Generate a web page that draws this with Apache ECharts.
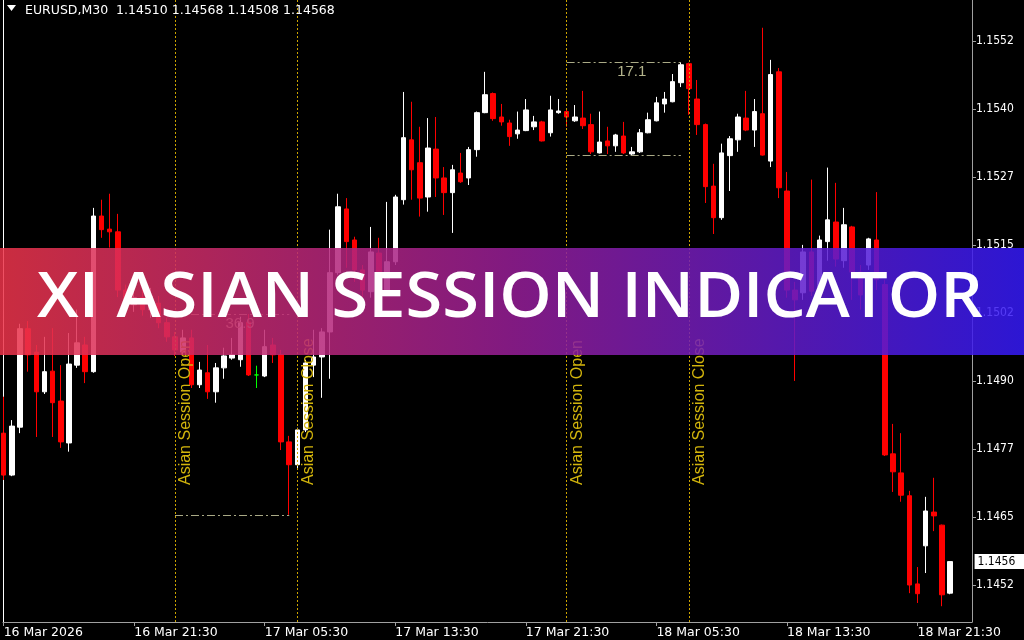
<!DOCTYPE html>
<html><head><meta charset="utf-8">
<script src="https://cdn.jsdelivr.net/npm/echarts@6/dist/echarts.min.js"></script>
<style>html,body{margin:0;padding:0;background:#000;}#c{width:1024px;height:640px;}</style>
</head><body><div id="c"></div>
<script>
const symbolLabel = 'EURUSD,M30';
const firstBarUTC = Date.UTC(2026, 2, 16, 13, 30);
const barMinutes = 30;
const emptySlots = 3;
const xTickLabels = ['16 Mar 2026','16 Mar 21:30','17 Mar 05:30','17 Mar 13:30','17 Mar 21:30','18 Mar 05:30','18 Mar 13:30','18 Mar 21:30'];
const xTickEvery = 16;
const yTickValues = [1.14525,1.1465,1.14775,1.149,1.15025,1.1515,1.15275,1.154,1.15525];
const yTickLabels = ['1.1452','1.1465','1.1477','1.1490','1.1502','1.1515','1.1527','1.1540','1.1552'];
const yMin = 1.14457, yMax = 1.15600;

const opens = [1.14804,1.14727,1.14815,1.14996,1.14953,1.14880,1.14918,1.14863,1.14786,1.14929,
1.14966,1.14917,1.15203,1.15179,1.15174,1.15067,1.15040,1.15053,1.15031,1.15043,
1.15007,1.14981,1.14953,1.14979,1.14893,1.14915,1.14880,1.14924,1.14942,1.14939,
1.15008,1.14911,1.14909,1.14966,1.14948,1.14788,1.14746,1.14810,1.14929,1.14944,
1.14990,1.15099,1.15216,1.15159,1.15104,1.15064,1.15135,1.15067,1.15119,1.15233,
1.15343,1.15301,1.15238,1.15326,1.15273,1.15246,1.15282,1.15273,1.15325,1.15393,
1.15428,1.15385,1.15374,1.15354,1.15360,1.15367,1.15376,1.15356,1.15393,1.15395,
1.15378,1.15383,1.15371,1.15319,1.15341,1.15332,1.15350,1.15317,1.15321,1.15356,
1.15378,1.15409,1.15413,1.15448,1.15483,1.15418,1.15371,1.15258,1.15200,1.15314,
1.15343,1.15383,1.15361,1.15391,1.15304,1.15468,1.15249,1.15067,1.15062,1.15137,
1.15073,1.15156,1.15192,1.15121,1.15183,1.15100,1.15113,1.15159,1.15077,1.14766,
1.14731,1.14689,1.14527,1.14597,1.14659,1.14635,1.14510];
const closes = [1.14727,1.14817,1.14996,1.14948,1.14880,1.14917,1.14860,1.14788,1.14931,1.14970,
1.14917,1.15203,1.15178,1.15174,1.15067,1.15040,1.15053,1.15031,1.15056,1.15007,
1.14981,1.14957,1.14979,1.14893,1.14920,1.14880,1.14924,1.14946,1.14948,1.15007,
1.14911,1.14911,1.14963,1.14948,1.14788,1.14746,1.14810,1.14933,1.14944,1.14990,
1.15099,1.15220,1.15156,1.15104,1.15067,1.15137,1.15091,1.15119,1.15238,1.15347,
1.15288,1.15236,1.15328,1.15273,1.15246,1.15288,1.15266,1.15325,1.15393,1.15426,
1.15382,1.15376,1.15349,1.15361,1.15398,1.15376,1.15341,1.15398,1.15396,1.15385,
1.15385,1.15369,1.15321,1.15339,1.15332,1.15352,1.15319,1.15321,1.15356,1.15380,
1.15411,1.15418,1.15450,1.15481,1.15437,1.15371,1.15257,1.15200,1.15319,1.15345,
1.15385,1.15361,1.15395,1.15315,1.15463,1.15255,1.15067,1.15049,1.15137,1.15065,
1.15159,1.15196,1.15124,1.15187,1.15100,1.15058,1.15161,1.15086,1.14764,1.14733,
1.14690,1.14525,1.14509,1.14661,1.14652,1.14507,1.14568];
const lows = [1.14718,1.14725,1.14804,1.14917,1.14797,1.14876,1.14797,1.14777,1.14770,1.14924,
1.14896,1.14915,1.15163,1.15145,1.15054,1.15027,1.15027,1.15020,1.15016,1.14997,
1.14972,1.14946,1.14948,1.14887,1.14887,1.14867,1.14860,1.14904,1.14939,1.14926,
1.14909,1.14887,1.14907,1.14933,1.14773,1.14654,1.14740,1.14806,1.14907,1.14869,
1.14904,1.15095,1.15108,1.15082,1.15054,1.15053,1.15077,1.15056,1.15113,1.15224,
1.15233,1.15202,1.15211,1.15238,1.15205,1.15172,1.15264,1.15260,1.15312,1.15392,
1.15378,1.15369,1.15332,1.15345,1.15359,1.15361,1.15340,1.15349,1.15391,1.15367,
1.15376,1.15363,1.15317,1.15318,1.15317,1.15321,1.15317,1.15315,1.15319,1.15355,
1.15377,1.15393,1.15412,1.15440,1.15389,1.15352,1.15227,1.15170,1.15196,1.15249,
1.15321,1.15359,1.15330,1.15314,1.15293,1.15236,1.15053,1.14900,1.15049,1.15056,
1.15064,1.15121,1.15110,1.15108,1.15049,1.15031,1.15104,1.15067,1.14762,1.14696,
1.14678,1.14510,1.14492,1.14547,1.14624,1.14486,1.14508];
const highs = [1.14871,1.14828,1.15005,1.15010,1.14966,1.14981,1.14997,1.14929,1.14988,1.15031,
1.14981,1.15218,1.15233,1.15244,1.15207,1.15077,1.15064,1.15067,1.15071,1.15056,
1.15016,1.14990,1.14994,1.14994,1.14935,1.14966,1.14933,1.14961,1.14979,1.15018,
1.15023,1.14928,1.14994,1.14979,1.14957,1.14799,1.14814,1.14939,1.14994,1.14997,
1.15178,1.15244,1.15236,1.15165,1.15113,1.15183,1.15163,1.15229,1.15242,1.15431,
1.15413,1.15367,1.15383,1.15385,1.15293,1.15297,1.15319,1.15330,1.15395,1.15468,
1.15430,1.15409,1.15380,1.15395,1.15418,1.15387,1.15378,1.15424,1.15418,1.15398,
1.15407,1.15433,1.15391,1.15395,1.15367,1.15354,1.15376,1.15330,1.15363,1.15393,
1.15422,1.15431,1.15464,1.15486,1.15485,1.15453,1.15373,1.15299,1.15336,1.15350,
1.15391,1.15433,1.15418,1.15549,1.15490,1.15475,1.15284,1.15082,1.15150,1.15270,
1.15167,1.15292,1.15264,1.15218,1.15185,1.15113,1.15163,1.15247,1.15086,1.14821,
1.14804,1.14698,1.14558,1.14687,1.14722,1.14636,1.14568];

const sessionOpenIdx = [21, 69];
const sessionCloseIdx = [36, 84];
const sessionLastIdx = [35, 83];
const sessionOpenText = 'Asian Session Open';
const sessionCloseText = 'Asian Session Close';
const bannerText = 'XI ASIAN SESSION INDICATOR';

// categories: one per bar slot (bars + right shift)
const categories = [];
for (let i = 0; i < opens.length + emptySlots; i++) {
  const d = new Date(firstBarUTC + i * barMinutes * 60000);
  const p = n => String(n).padStart(2, '0');
  categories.push(d.getUTCFullYear() + '.' + p(d.getUTCMonth() + 1) + '.' + p(d.getUTCDate()) + ' ' + p(d.getUTCHours()) + ':' + p(d.getUTCMinutes()));
}
const candleData = opens.map((o, i) => [o, closes[i], lows[i], highs[i]]);
const last = opens.length - 1;
const trunc4 = v => (Math.floor(v * 1e4 + 1e-6) / 1e4).toFixed(4);

const sessionColor = '#cca400';
const sessionTextColor = '#d2b40c';
const rangeColor = '#aaaa86';
const markLines = [];
sessionOpenIdx.forEach((oi, s) => {
  const ci = sessionCloseIdx[s], li = sessionLastIdx[s];
  const lbl = (t) => ({ show: true, formatter: t, position: 'insideStartBottom', distance: [137, 3],
    color: sessionTextColor, fontFamily: 'Liberation Sans, Arial, sans-serif', fontSize: 16 });
  markLines.push({ xAxis: categories[oi], lineStyle: { color: sessionColor, type: [2, 2], width: 1 }, label: lbl(sessionOpenText) });
  markLines.push({ xAxis: categories[ci], lineStyle: { color: sessionColor, type: [2, 2], width: 1 }, label: lbl(sessionCloseText) });
  let hi = -Infinity, lo = Infinity;
  for (let k = oi; k <= li; k++) { hi = Math.max(hi, highs[k]); lo = Math.min(lo, lows[k]); }
  const rangeText = ((hi - lo) * 1e4).toFixed(1);
  markLines.push([
    { coord: [categories[oi], hi], lineStyle: { color: rangeColor, type: [8, 3, 2, 3], width: 1 },
      label: { show: true, formatter: rangeText, position: 'insideMiddleBottom', distance: 2,
        color: '#b4b48c', fontFamily: 'Liberation Sans, Arial, sans-serif', fontSize: 15, padding: [0, 0, 0, 16] } },
    { coord: [categories[li], hi] }
  ]);
  markLines.push([
    { coord: [categories[oi], lo], lineStyle: { color: rangeColor, type: [8, 3, 2, 3], width: 1 }, label: { show: false } },
    { coord: [categories[li], lo] }
  ]);
});
// current price tag at the right edge of the plot
markLines.push([
  { coord: [categories[last], closes[last]], lineStyle: { color: 'rgba(0,0,0,0)', width: 0 },
    label: { show: true, position: 'end', distance: 0, formatter: trunc4(closes[last]),
      backgroundColor: '#ffffff', color: '#000000', padding: [2, 12, 1, 3],
      fontFamily: "'Liberation Sans Narrow', 'DejaVu Sans Condensed', sans-serif", fontSize: 12 } },
  { coord: [categories[categories.length - 1], closes[last]] }
]);

const tickFn = (idx) => idx % xTickEvery === 0 && idx / xTickEvery < xTickLabels.length;
const axisGrey = '#a0a0a0';

const chart = echarts.init(document.getElementById('c'), null, { renderer: 'canvas' });
chart.setOption({
  backgroundColor: '#000000',
  animation: false,
  grid: [
    { left: 3.66, right: 49.42, top: 0, bottom: 18 },
    { left: 3, right: 52, top: 0, bottom: 18 }
  ],
  xAxis: [
    { type: 'category', gridIndex: 0, data: categories, boundaryGap: false,
      axisLine: { show: false },
      axisTick: { show: true, interval: tickFn, length: 4, lineStyle: { color: axisGrey } },
      axisLabel: { interval: tickFn, formatter: (v, i) => xTickLabels[i / xTickEvery], color: '#ffffff',
        fontFamily: 'DejaVu Sans, sans-serif', fontSize: 12.5, align: 'left', margin: 4 },
      splitLine: { show: false } },
    { type: 'value', gridIndex: 1, min: 0, max: 1,
      axisLine: { show: true, onZero: false, lineStyle: { color: axisGrey } },
      axisTick: { show: false }, axisLabel: { show: false }, splitLine: { show: false } }
  ],
  yAxis: [
    { type: 'value', gridIndex: 0, min: yMin, max: yMax, show: false, splitLine: { show: false } },
    { type: 'value', gridIndex: 1, position: 'right', min: yMin, max: yMax,
      axisLine: { show: true, onZero: false, lineStyle: { color: axisGrey } },
      axisTick: { show: true, length: 4, customValues: yTickValues, lineStyle: { color: axisGrey } },
      axisLabel: { customValues: yTickValues, margin: 4, color: '#ffffff',
        fontFamily: "'Liberation Sans Narrow', 'DejaVu Sans Condensed', sans-serif", fontSize: 12,
        formatter: (v) => { const i = yTickValues.findIndex(t => Math.abs(t - v) < 1e-7); return i >= 0 ? yTickLabels[i] : ''; } },
      splitLine: { show: false } },
    { type: 'value', gridIndex: 1, position: 'left', min: yMin, max: yMax,
      axisLine: { show: true, onZero: false, lineStyle: { color: '#ffffff' } },
      axisTick: { show: false }, axisLabel: { show: false }, splitLine: { show: false } }
  ],
  series: [{
    type: 'candlestick', xAxisIndex: 0, yAxisIndex: 0, data: candleData, barWidth: 5,
    itemStyle: { color: '#ffffff', color0: '#ff0000', borderColor: '#ffffff', borderColor0: '#ff0000',
      borderColorDoji: '#00ff00', borderWidth: 1 },
    markLine: { silent: true, symbol: ['none', 'none'], animation: false, data: markLines }
  }],
  graphic: [
    { type: 'polygon', z: 101, shape: { points: [[7, 5], [16, 5], [11.5, 11]] }, style: { fill: '#ffffff' } },
    { type: 'text', z: 101, x: 25, y: 10.5, style: {
        text: symbolLabel + '  ' + [opens[last], highs[last], lows[last], closes[last]].map(v => v.toFixed(5)).join(' '),
        fill: '#ffffff', fontFamily: 'DejaVu Sans, sans-serif', fontSize: 12.5, verticalAlign: 'middle', align: 'left' } },
    { type: 'rect', z: 100, shape: { x: 0, y: 248, width: 1024, height: 107 },
      style: { fill: { type: 'linear', x: 0, y: 0, x2: 1, y2: 0, colorStops: [
        { offset: 0, color: 'rgba(236,52,74,0.86)' },
        { offset: 0.5, color: 'rgba(150,30,150,0.86)' },
        { offset: 1, color: 'rgba(52,26,246,0.86)' } ] } } },
    { type: 'text', z: 102, x: 510, y: 299, scaleX: 1.06, style: { text: bannerText, fill: '#ffffff',
        fontFamily: 'Open Sans, sans-serif', fontWeight: 600, fontSize: 63, align: 'center', verticalAlign: 'middle' } }
  ]
});
</script></body></html>
